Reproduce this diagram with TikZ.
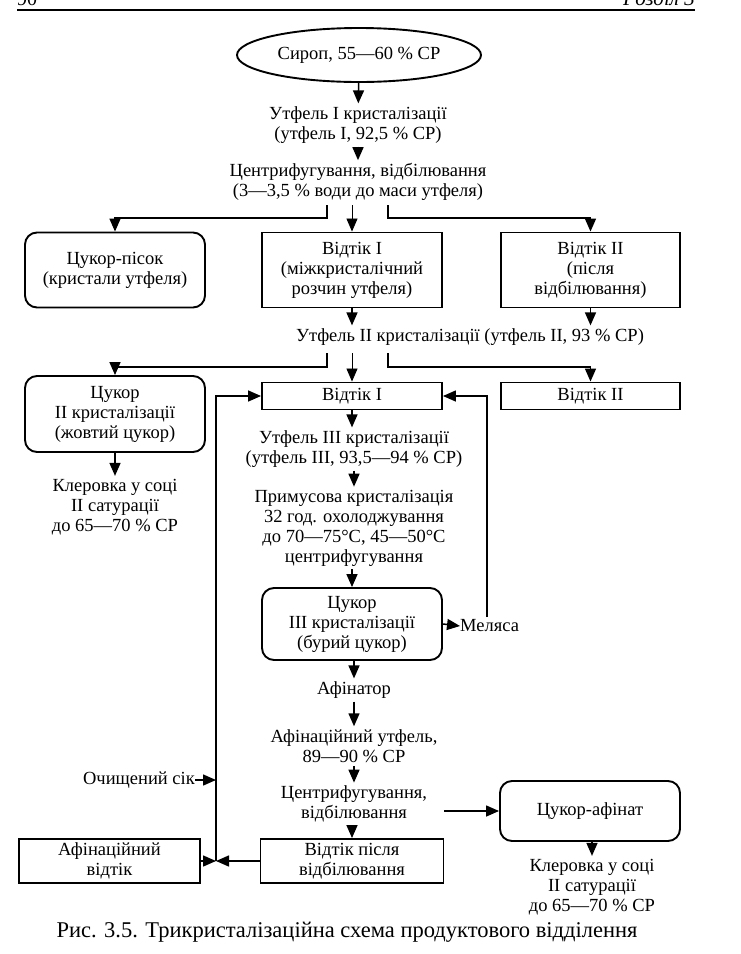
\documentclass[tikz,border=0pt]{standalone}
\usepackage{fontspec}
\setmainfont{Liberation Serif}
\usetikzlibrary{arrows.meta,shapes.geometric,calc}
\begin{document}
\begin{tikzpicture}[x=1pt,y=-1pt,
  txt/.style={align=center,inner sep=3pt,font=\fontsize{18.5}{20}\selectfont},
  box/.style={txt,draw,line width=1.9pt,minimum width=180pt,inner sep=0pt},
  rbox/.style={box,rounded corners=12pt},
  conn/.style={line width=1.5pt,-{Triangle[width=11pt,length=13pt]}},
  thinconn/.style={line width=0.8pt,-{Triangle[width=11pt,length=13pt]}},
  plainline/.style={line width=1.5pt}
]
\useasboundingbox (0,0) rectangle (741,954);
\fill[white] (0,0) rectangle (741,954);

% header
\draw[line width=1.3pt] (17,10) -- (695,10);
\node[anchor=base west,inner sep=0pt,font=\fontsize{20}{22}\selectfont] (hdl) at (17,5) {90};
\node[anchor=base east,inner sep=0pt,font=\fontsize{21}{22}\selectfont\itshape] (hdr) at (695,5) {Розділ 3};

% top column
\node[ellipse,draw,line width=1.9pt,minimum width=244pt,minimum height=54pt,inner sep=0pt,font=\fontsize{18.5}{20}\selectfont] (syr) at (359,55) {Сироп, 55—60 \% СР};
\node[txt] (t1) at (358,125) {Утфель I кристалізації\\(утфель I, 92,5 \% СР)};
\node[txt] (t2) at (358,182) {Центрифугування, відбілювання\\(3—3,5 \% води до маси утфеля)};

% row 1
\node[rbox,minimum height=75pt] (sug1) at (115,270) {Цукор-пісок\\(кристали утфеля)};
\node[box,minimum height=75pt] (ot1) at (352,270) {Відтік I\\(міжкристалічний\\розчин утфеля)};
\node[box,minimum height=75pt,minimum width=179pt] (ot2) at (590.5,270) {Відтік II\\(після\\відбілювання)};

\draw[conn] (syr) -- (t1);
\draw[conn] (t1) -- (t2);
\coordinate (b1l) at (327,205);
\coordinate (b1m) at (352,205);
\coordinate (b1r) at (388,205);
\draw[conn] (b1l) -- ++(0,13) -| (sug1.north);
\draw[thinconn] (b1m) -- (ot1.north);
\draw[conn] (b1r) -- ++(0,13) -| (ot2.north);

% Utfel II
\node[txt] (t3) at (470,337) {Утфель II кристалізації (утфель II, 93 \% СР)};
\draw[conn] (ot1.south) -- (ot1.south |- t3.north);
\draw[conn] (ot2.south) -- (ot2.south |- t3.north);

% row 2
\node[rbox,minimum height=76pt] (sug2) at (115,414) {Цукор\\II кристалізації\\(жовтий цукор)};
\node[box,minimum height=27pt] (ot1b) at (352,396) {Відтік I};
\node[box,minimum height=27pt,minimum width=179pt] (ot2b) at (590.5,396) {Відтік II};
\coordinate (b2l) at (327,353);
\coordinate (b2m) at (352,353);
\coordinate (b2r) at (388,353);
\draw[conn] (b2l) -- ++(0,14) -| (sug2.north);
\draw[thinconn] (b2m) -- (ot1b.north);
\draw[conn] (b2r) -- ++(0,14) -| (ot2b.north);

\node[txt] (kl1) at (115,507) {Клеровка у соці\\II сатурації\\до 65—70 \% СР};
\draw[conn] (sug2.south) -- (kl1.north);

% middle column
\node[txt] (t4) at (354,449) {Утфель III кристалізації\\(утфель III, 93,5—94 \% СР)};
\draw[conn] (ot1b.south) -- (ot1b.south |- t4.north);
\node[txt] (t5) at (354,528) {Примусова кристалізація\\32 год. охолоджування\\до 70—75°C, 45—50°C\\центрифугування};
\draw[conn] (t4) -- (t5);
\node[rbox,minimum height=72pt] (sug3) at (352,624) {Цукор\\III кристалізації\\(бурий цукор)};
\draw[conn] (t5.south -| sug3.north) -- (sug3.north);
\node[txt,anchor=west,inner sep=0pt] (mel) at (460,626) {Меляса};
\draw[conn] (sug3.east) -- (mel.west);
\coordinate (fbr) at (487,617);
\draw[conn] (fbr) |- (ot1b.east);

\node[txt] (t6) at (354,690) {Афінатор};
\draw[conn] (sug3.south -| t6.north) -- (t6.north);
\node[txt] (t7) at (354,746) {Афінаційний утфель,\\89—90 \% СР};
\draw[conn] (t6) -- (t7);
\node[txt] (t8) at (354,804) {Центрифугування,\\відбілювання};
\draw[conn] (t7) -- (t8);
\node[box,minimum height=44pt,minimum width=183pt] (ot3) at (352,861) {Відтік після\\відбілювання};
\draw[conn] (t8.south -| ot3.north) -- (ot3.north);

% right bottom
\node[rbox,minimum height=60pt] (sugA) at (590,811) {Цукор-афінат};
\coordinate (ca) at (444,811);
\draw[conn] (ca) -- (sugA.west);
\node[txt] (kl2) at (592,887) {Клеровка у соці\\II сатурації\\до 65—70 \% СР};
\draw[conn] (sugA.south -| kl2.north) -- (kl2.north);

% left bottom
\node[box,minimum height=44pt,minimum width=181pt] (afv) at (109.5,861) {Афінаційний\\відтік};
\coordinate (J) at (216,861);
\draw[conn] (ot3.west) -- (J);
\draw[conn] (afv.east) -- (J);
\draw[conn] (J) |- (ot1b.west);
\node[txt,anchor=east,inner sep=0pt] (och) at (195,780) {Очищений сік};
\draw[conn] (och.east) -- (J |- och.east);

% caption
\node[inner sep=0pt,font=\fontsize{22.5}{24}\selectfont] (cap) at (347,932) {Рис. 3.5. Трикристалізаційна схема продуктового відділення};
\end{tikzpicture}
\end{document}
